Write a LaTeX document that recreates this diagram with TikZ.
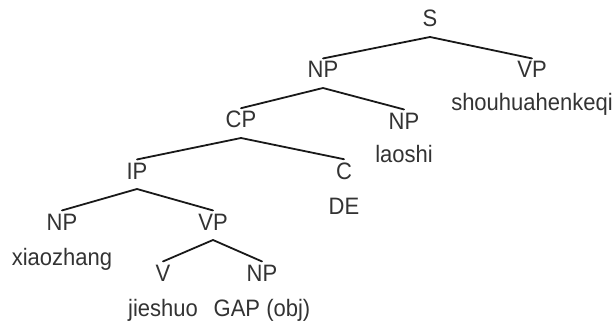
\documentclass[tikz,border=0pt]{standalone}
\usepackage{fontspec}
\usepackage{graphicx}
\setmainfont{Liberation Sans}
\newcommand{\tall}[1]{\scalebox{1}[1.08]{#1}}
\begin{document}
\begin{tikzpicture}[x=1pt,y=-1pt,
  lab/.style={font=\fontsize{22}{22}\selectfont, inner sep=0pt, anchor=base, text=black!80},
  word/.style={font=\fontsize{22}{22}\selectfont, inner sep=0pt, anchor=base, text=black!80},
  branch/.style={line width=1.8pt, line cap=round, line join=round, black!90}]
\useasboundingbox (0,0) rectangle (614,321);
% labels
\node[lab] (S)   at (430,27) {\tall{S}};
\node[lab] (NP1) at (323,78) {\tall{NP}};
\node[lab] (VP1) at (532,78) {\tall{VP}};
\node[word] (w1) at (532,111) {\tall{shouhuahenkeqi}};
\node[lab] (CP)  at (241,128) {\tall{CP}};
\node[lab] (NP2) at (404,129) {\tall{NP}};
\node[word] (w2) at (404,162) {\tall{laoshi}};
\node[lab] (IP)  at (137,179) {\tall{IP}};
\node[lab] (C)   at (344,179) {\tall{C}};
\node[word] (w3) at (344,214) {\tall{DE}};
\node[lab] (NP3) at (62,230) {\tall{NP}};
\node[lab] (VP2) at (213,230) {\tall{VP}};
\node[word] (w4) at (62,265) {\tall{xiaozhang}};
\node[lab] (V)   at (163,281) {\tall{V}};
\node[lab] (NP4) at (262,281) {\tall{NP}};
\node[word] (w5) at (163,316) {\tall{jieshuo}};
\node[word] (w6) at (262,316) {\tall{GAP (obj)}};
% branches
\foreach \p/\a/\b in {S/NP1/VP1, NP1/CP/NP2, CP/IP/C, IP/NP3/VP2, VP2/V/NP4}{
  \draw[branch] ([yshift=3pt]\a.north) -- ([yshift=-10pt]\p.base) -- ([yshift=3pt]\b.north);
}
\end{tikzpicture}
\end{document}
